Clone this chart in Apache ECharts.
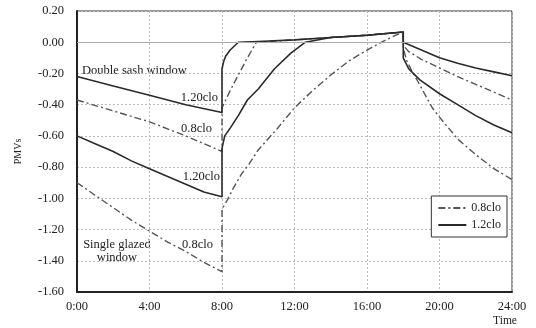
<!DOCTYPE html>
<html>
<head>
<meta charset="utf-8">
<script src="https://cdn.jsdelivr.net/npm/echarts@6/dist/echarts.min.js"></script>
<style>
  html, body { margin: 0; padding: 0; background: #fff; }
  #chart { width: 536px; height: 328px; }
</style>
</head>
<body>
<div id="chart"></div>
<script>
// [hour, PMV]
var doubleSash12 = [
  [0, -0.22], [2, -0.28], [4, -0.34], [6, -0.40], [8, -0.45],
  [8, -0.17], [8.1, -0.12], [8.2, -0.09], [8.45, -0.05], [8.9, 0],
  [10, 0.005], [12, 0.015], [14, 0.03], [16, 0.045], [18, 0.065],
  [18, 0.0], [19, -0.05], [20, -0.10], [21, -0.135], [22, -0.165], [23, -0.19], [24, -0.215]
]
var doubleSash08 = [
  [0, -0.37], [2, -0.44], [4, -0.51], [6, -0.60], [8, -0.70],
  [8, -0.42], [8.45, -0.31], [8.9, -0.21], [9.4, -0.10], [9.9, 0],
  [10, 0.005], [12, 0.015], [14, 0.03], [16, 0.045], [18, 0.065],
  [18, -0.02], [18.3, -0.06], [19, -0.11], [20, -0.165], [21, -0.22], [22, -0.27], [23, -0.32], [24, -0.37]
]
var singleGlazed12 = [
  [0, -0.60], [1, -0.65], [2, -0.70], [3, -0.76], [4, -0.81], [5, -0.86], [6, -0.91], [7, -0.96], [8, -0.99],
  [8, -0.68], [8.15, -0.60], [8.45, -0.55], [8.9, -0.47], [9.4, -0.37], [10, -0.30], [10.9, -0.17], [11.8, -0.07], [12.6, 0],
  [14, 0.03], [16, 0.045], [18, 0.065],
  [18, -0.10], [18.3, -0.17], [18.9, -0.24], [20, -0.33], [21, -0.40], [22, -0.47], [23, -0.53], [24, -0.58]
]
var singleGlazed08 = [
  [0, -0.90], [1, -0.98], [2, -1.06], [3, -1.14], [4, -1.21], [5, -1.28], [6, -1.34], [7, -1.41], [8, -1.47],
  [8, -1.07], [8.3, -1.01], [8.6, -0.94], [9.1, -0.84], [9.5, -0.78], [10, -0.69], [11, -0.56], [12, -0.42],
  [13, -0.31], [14, -0.21], [15, -0.12], [16, -0.05], [16.8, 0.0], [17.5, 0.04], [18, 0.065],
  [18, -0.04], [18.2, -0.12], [18.5, -0.19], [18.8, -0.25], [19.6, -0.42], [20, -0.48], [21, -0.62], [22, -0.72], [23, -0.81], [24, -0.88]
]
var legendNames = ['0.8clo', '1.2clo']

var serif = 'Liberation Serif'
var dashDot = [7, 3, 2, 3]

function lineSeries(name, data, dashed) {
  return {
    name: name,
    type: 'line',
    data: data,
    symbol: 'none',
    smooth: false,
    silent: true,
    lineStyle: {
      color: dashed ? '#555' : '#2a2a2a',
      width: dashed ? 1.4 : 1.6,
      type: dashed ? dashDot : 'solid'
    },
    itemStyle: { color: dashed ? '#555' : '#2a2a2a' }
  }
}

// label anchored at (x, y): y is the text middle
function txt(x, y, s, align) {
  return {
    type: 'text',
    x: x,
    y: y,
    silent: true,
    style: {
      text: s,
      font: '12.5px "' + serif + '"',
      fill: '#222',
      align: align || 'left',
      verticalAlign: 'middle',
      lineHeight: 13
    }
  }
}

var chart = echarts.init(document.getElementById('chart'))

var ds12 = lineSeries(legendNames[1], doubleSash12, false)
ds12.markLine = {
  silent: true,
  symbol: 'none',
  label: { show: false },
  lineStyle: { type: 'solid', color: '#aaa', width: 1 },
  data: [{ yAxis: 0 }]
}

var option = {
  animation: false,
  backgroundColor: '#fff',
  grid: {
    left: 77, right: 24, top: 11, bottom: 36,
    show: true, borderColor: '#333', borderWidth: 1
  },
  legend: {
    data: legendNames,
    orient: 'vertical',
    right: 29,
    top: 196,
    itemWidth: 28,
    itemHeight: 10,
    itemGap: 5,
    padding: [6, 6, 6, 6],
    borderColor: '#333',
    borderWidth: 1,
    backgroundColor: '#fff',
    itemStyle: { opacity: 0 },
    textStyle: { fontFamily: serif, fontSize: 12, color: '#222' }
  },
  xAxis: {
    type: 'value',
    min: 0,
    max: 24,
    interval: 4,
    axisLine: { onZero: false, lineStyle: { color: '#222', width: 2 } },
    axisTick: { show: false },
    axisLabel: {
      margin: 8,
      fontFamily: serif, fontSize: 12.5, color: '#222',
      formatter: function (v) { return v + ':00' }
    },
    splitLine: { lineStyle: { type: [2, 2], color: '#bbb' } }
  },
  yAxis: {
    type: 'value',
    min: -1.6,
    max: 0.2,
    interval: 0.2,
    name: 'PMVs',
    nameLocation: 'middle',
    nameGap: 54,
    nameRotate: 90,
    nameTextStyle: { fontFamily: serif, fontSize: 10, color: '#222' },
    axisLine: { show: true, onZero: false, lineStyle: { color: '#222', width: 2 } },
    axisTick: { show: false },
    axisLabel: {
      margin: 13,
      fontFamily: serif, fontSize: 12.5, color: '#222',
      formatter: function (v) { return Math.abs(v) < 1e-9 ? '0.00' : v.toFixed(2) }
    },
    splitLine: { lineStyle: { type: [2, 2], color: '#bbb' } }
  },
  graphic: [
    txt(82, 71, 'Double sash window'),
    txt(218, 98, '1.20clo', 'right'),
    txt(212, 129, '0.8clo', 'right'),
    txt(220, 177, '1.20clo', 'right'),
    txt(213, 245, '0.8clo', 'right'),
    txt(117, 251, 'Single glazed\nwindow', 'center'),
    {
      type: 'text', x: 505, y: 321, silent: true,
      style: { text: 'Time', font: '11.5px "' + serif + '"', fill: '#222', align: 'center', verticalAlign: 'middle' }
    }
  ],
  series: [
    lineSeries(legendNames[0], doubleSash08, true),
    ds12,
    lineSeries(legendNames[0], singleGlazed08, true),
    lineSeries(legendNames[1], singleGlazed12, false)
  ]
}

chart.setOption(option)
</script>
</body>
</html>
